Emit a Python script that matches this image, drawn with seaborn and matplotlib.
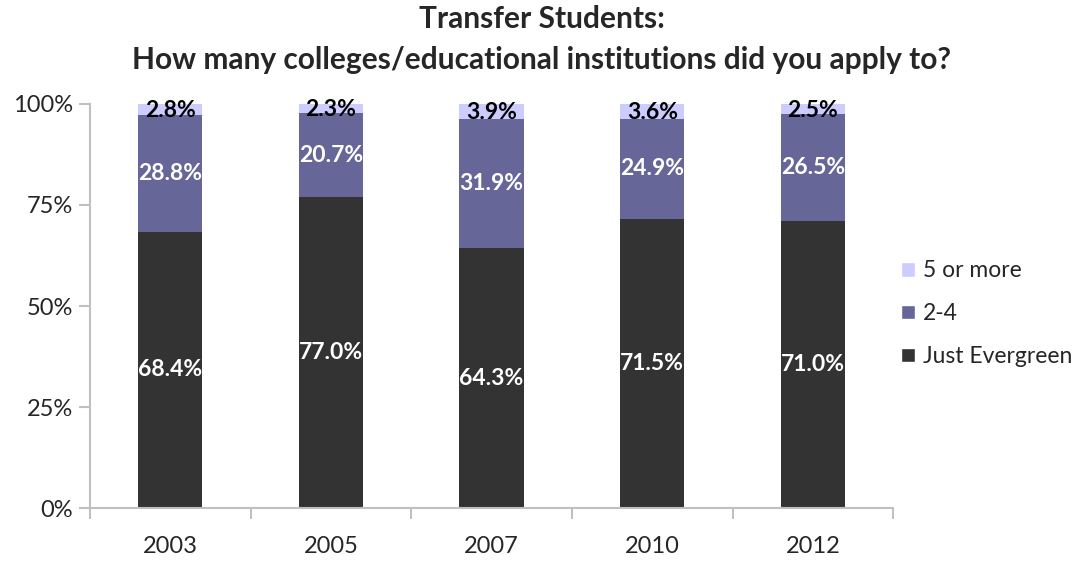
import matplotlib
matplotlib.use("Agg")
import matplotlib.pyplot as plt
import seaborn as sns
import numpy as np
import pandas as pd
from matplotlib.ticker import FixedLocator, PercentFormatter
from matplotlib.patches import Patch

years = ["2003", "2005", "2007", "2010", "2012"]
just_evergreen = [68.4, 77.0, 64.3, 71.5, 71.0]
two_to_four = [28.8, 20.7, 31.9, 24.9, 26.5]
five_or_more = [2.8, 2.3, 3.9, 3.6, 2.5]
series_names = ["Just Evergreen", "2-4", "5 or more"]
colors = ["#333333", "#666699", "#CCCCFF"]

sns.set_style("white")
plt.rcParams['font.family'] = ['Lato', 'DejaVu Sans']

fig = plt.figure(figsize=(10.84, 5.62), dpi=100)
ax = fig.add_axes([0.083, 0.096, 0.741, 0.719])

df = pd.DataFrame({"year": years, "je": just_evergreen, "tf": two_to_four, "fm": five_or_more})
b1 = np.array(just_evergreen)
b2 = b1 + np.array(two_to_four)

sns.barplot(data=df, x="year", y="je", color=colors[0], width=0.4, ax=ax, saturation=1, linewidth=0)
sns.barplot(data=df, x="year", y="tf", color=colors[1], width=0.4, ax=ax, saturation=1, bottom=b1, linewidth=0)
sns.barplot(data=df, x="year", y="fm", color=colors[2], width=0.4, ax=ax, saturation=1, bottom=b2, linewidth=0)

lab_fs = 16.5
for i in range(len(years)):
    ax.text(i, b1[i] / 2, f"{just_evergreen[i]:.1f}%", ha="center", va="center",
            color="white", fontsize=lab_fs, fontweight="bold")
    ax.text(i, b1[i] + two_to_four[i] / 2, f"{two_to_four[i]:.1f}%", ha="center", va="center",
            color="white", fontsize=lab_fs, fontweight="bold")
    ax.text(i, b2[i] + five_or_more[i] / 2 - 0.3, f"{five_or_more[i]:.1f}%", ha="center", va="center",
            color="black", fontsize=lab_fs, fontweight="bold")

ax.set_xlim(-0.5, len(years) - 0.5)
ax.set_ylim(0, 100)
ax.set_yticks([0, 25, 50, 75, 100])
ax.yaxis.set_major_formatter(PercentFormatter(decimals=0))
ax.xaxis.set_major_locator(FixedLocator(np.arange(-0.5, len(years), 1.0)))
ax.xaxis.set_minor_locator(FixedLocator(np.arange(len(years))))
ax.set_xticklabels([])
ax.set_xticklabels(years, minor=True)
ax.tick_params(axis="x", which="major", length=8, width=1.5, color="#C0C0C0", direction="out", bottom=True)
ax.tick_params(axis="x", which="minor", length=0, pad=20, labelsize=17)
ax.tick_params(axis="y", length=8, width=1.5, color="#C0C0C0", direction="out", left=True, labelsize=17, pad=4)
ax.set_xlabel("")
ax.set_ylabel("")
for s in ["top", "right"]:
    ax.spines[s].set_visible(False)
for s in ["left", "bottom"]:
    ax.spines[s].set_color("#C0C0C0")
    ax.spines[s].set_linewidth(1.5)

handles = [Patch(facecolor=colors[2]), Patch(facecolor=colors[1]), Patch(facecolor=colors[0])]
fig.legend(handles, ["5 or more", "2-4", "Just Evergreen"], loc="center left",
           bbox_to_anchor=(0.831, 0.442), frameon=False, fontsize=16.5,
           borderpad=0, borderaxespad=0,
           handlelength=0.6, handleheight=0.6, labelspacing=0.95, handletextpad=0.35)

fig.text(0.5, 0.966, "Transfer Students:", ha="center", va="center", fontsize=21.5, fontweight="bold")
fig.text(0.5, 0.893, "How many colleges/educational institutions did you apply to?", ha="center",
         va="center", fontsize=21.5, fontweight="bold")

fig.savefig("out.png", dpi=100)
